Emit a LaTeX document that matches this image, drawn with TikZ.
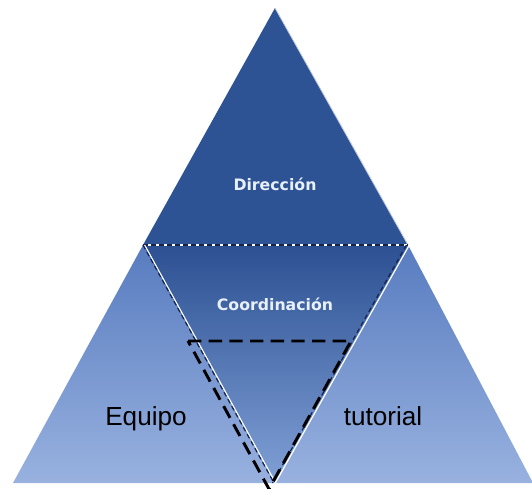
\documentclass[tikz,border=0pt]{standalone}
\usepackage{fontspec}
\setmainfont{Liberation Sans}
\newfontfamily\levelfont{DejaVu Sans}
\definecolor{dirblue}{RGB}{46,83,149}
\definecolor{lowtop}{RGB}{88,124,192}
\definecolor{lowbot}{RGB}{152,177,223}
\definecolor{coordtop}{RGB}{44,80,146}
\definecolor{coordbot}{RGB}{128,160,214}
\definecolor{edgedark}{RGB}{20,35,80}
\definecolor{labelwhite}{RGB}{232,240,250}
\tikzset{
  levellabel/.style={text=labelwhite, font=\levelfont\bfseries\fontsize{11.8pt}{14pt}\selectfont, inner sep=0pt},
  teamlabel/.style={text=black, font=\fontsize{19.6pt}{23pt}\selectfont, inner sep=0pt},
  thinrule/.style={edgedark, line width=0.9pt, dash pattern=on 3.5pt off 2.5pt},
  lightrule/.style={white, line width=0.9pt},
  boldrule/.style={black, line width=2.2pt, dash pattern=on 10pt off 5.5pt, line join=miter},
}
\begin{document}
\begin{tikzpicture}[x=0.75pt,y=-0.75pt]
\useasboundingbox (0,0) rectangle (532,489);
\fill[white] (0,0) rectangle (532,489);
% pyramid corners
\coordinate (apex) at (275,8);
\coordinate (midL) at (143,245);
\coordinate (midR) at (408,245);
\coordinate (baseL) at (13,483);
\coordinate (baseR) at (533,483);
\coordinate (coordV) at (274,483);
% inner dashed triangle
\coordinate (teamL) at (188,341);
\coordinate (teamR) at (351,341);
\coordinate (teamV) at (269,489);
% lower band
\shade[top color=lowtop, bottom color=lowbot] (midL) -- (midR) -- (baseR) -- (baseL) -- cycle;
% top level
\fill[dirblue] (apex) -- (midR) -- (midL) -- cycle;
\draw[white!70!dirblue, line width=0.6pt] (apex) -- (midR);
% middle level (inverted triangle)
\shade[top color=coordtop, bottom color=coordbot] (midL) -- (midR) -- (coordV) -- cycle;
% level borders
\draw[lightrule] (midL) -- (midR);
\draw[thinrule] (midL) -- (midR);
\draw[lightrule] ([xshift=1.2]midL) -- ([xshift=1.2]coordV);
\draw[thinrule] (midL) -- (coordV);
\draw[lightrule] ([xshift=1]midR) -- ([xshift=1]coordV);
\draw[thinrule] ([xshift=-1.2]midR) -- ([xshift=-1.2]coordV);
% bold dashed team triangle
\draw[boldrule] (teamL) -- (teamR) -- (teamV) -- cycle;
% labels
\node[levellabel] (dir) at (275,184) {Dirección};
\node[levellabel] (coord) at (275,304) {Coordinación};
\node[teamlabel, anchor=base] (team) at (146,425) {Equipo};
\node[teamlabel, anchor=base] (tutor) at (383,425) {tutorial};
\end{tikzpicture}
\end{document}
